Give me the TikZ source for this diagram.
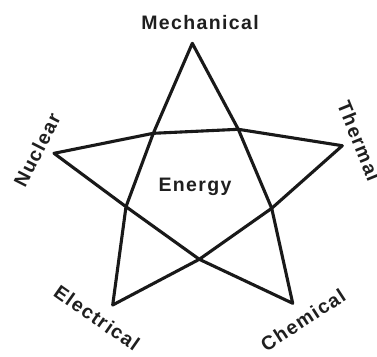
\documentclass[tikz,border=0pt]{standalone}
\usepackage{fontspec}
\setmainfont{Liberation Sans}
\newfontfamily\starfont{Liberation Sans}[LetterSpace=7]
\usepackage{tikz}
\usetikzlibrary{positioning}

\begin{document}
\begin{tikzpicture}[x=1pt, y=-1pt, line width=3.1pt, line join=round, every node/.style={font=\starfont\bfseries\fontsize{19.5}{22}\selectfont, text=black!88, inner sep=0pt}]
        \useasboundingbox (0,0) rectangle (377,356);

        \coordinate (mech) at (192.3,43.3);
        \coordinate (therm) at (342.3,145.7);
        \coordinate (chem) at (292.7,303.3);
        \coordinate (elec) at (112.7,305);
        \coordinate (nucl) at (54,153.3);

        \coordinate (ia) at (153.3,133.3);
        \coordinate (ib) at (238.3,129.3);
        \coordinate (ic) at (271.7,208.3);
        \coordinate (id) at (199.3,259.3);
        \coordinate (ie) at (126,206.7);

        \draw[black!90] (mech) -- (ia) -- (ie) -- (elec) -- (id) -- (ic) -- (therm) -- (ib) -- (ia) -- (nucl)
            -- (ie) -- (id) -- (chem) -- (ic) -- (ib) -- cycle;

        \node (mechanical) at (200,23) {Mechanical};
        \node (thermal) [rotate=-68] at (359,141) {Thermal};
        \node (chemical) [rotate=33] at (303,320) {Chemical};
        \node (electrical) [rotate=-35] at (97,318) {Electrical};
        \node (nuclear) [rotate=63] at (37,150) {Nuclear};
        \node (energy) at (195,187) {Energy};
    \end{tikzpicture}
\end{document}
